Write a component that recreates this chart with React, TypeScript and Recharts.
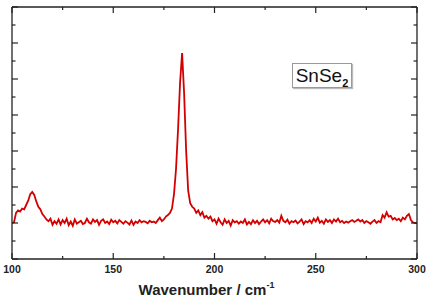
import React from "react";
import { LineChart, Line, XAxis, YAxis } from "recharts";

const xStart = 100;
const intensity: number[] = [
  1.00, 1.02, 1.28, 1.35, 1.32, 1.40, 1.38, 1.50, 1.62, 1.80,
  1.86, 1.78, 1.60, 1.45, 1.38, 1.25, 1.18, 1.10, 1.05, 1.12,
  0.95, 1.05, 0.98, 1.10, 0.96, 1.08, 1.00, 1.12, 0.94, 1.04,
  0.92, 1.10, 0.98, 1.02, 1.06, 0.97, 1.00, 1.12, 1.02, 0.98,
  1.10, 1.03, 1.08, 0.95, 1.06, 1.10, 1.00, 1.04, 0.97, 1.09,
  1.02, 1.06, 0.99, 1.08, 1.03, 0.98, 1.05, 1.01, 0.96, 1.07,
  0.95, 1.04, 1.00, 1.08, 1.02, 1.05, 1.03, 0.99, 1.06, 1.02,
  1.04, 1.00, 1.08, 1.15, 1.05, 1.10, 1.18, 1.22, 1.28, 1.40,
  1.80, 2.50, 3.60, 4.90, 5.72, 4.60, 3.00, 1.90, 1.55, 1.45,
  1.40, 1.28, 1.35, 1.22, 1.30, 1.15, 1.20, 1.12, 1.18, 1.05,
  1.10, 0.98, 1.12, 1.02, 0.95, 1.10, 1.00, 1.06, 0.93, 1.08,
  1.02, 1.05, 0.98, 1.04, 1.00, 1.10, 0.96, 1.03, 0.97, 1.08,
  1.00, 1.06, 0.97, 1.04, 1.10, 1.02, 1.08, 0.99, 1.12, 1.05,
  1.03, 1.08, 1.01, 1.20, 1.06, 1.02, 1.09, 0.98, 1.05, 1.02,
  1.07, 0.99, 1.04, 1.10, 0.97, 1.05, 1.02, 1.08, 1.00, 1.12,
  1.04, 1.15, 1.01, 1.06, 0.98, 1.10, 1.03, 1.08, 1.00, 1.10,
  1.04, 1.12, 1.02, 1.06, 1.00, 1.04, 1.01, 1.05, 1.08, 1.03,
  1.06, 1.10, 1.04, 1.08, 1.00, 1.05, 1.02, 0.98, 1.04, 1.08,
  1.00, 1.05, 1.02, 1.22, 1.15, 1.30, 1.18, 1.20, 1.10, 1.14,
  1.08, 1.12, 1.05, 1.15, 1.10, 1.20, 1.25, 1.08, 1.02, 1.00,
  1.00,
];

const xTicks = [100, 125, 150, 175, 200, 225, 250, 275, 300];
const yTicks = [0, 0.5, 1, 1.5, 2, 2.5, 3, 3.5, 4, 4.5, 5, 5.5, 6, 6.5, 7];
const xTitle = "Wavenumber / cm";
const xTitleSup = "-1";
const sampleLabel = "SnSe";
const sampleSub = "2";

const data = intensity.map((v, i) => ({ x: xStart + i, y: v }));

const AXIS = "#222";

const BottomTick = (props: any) => {
  const { x, y, payload } = props;
  const major = payload.value % 50 === 0;
  return (
    <g>
      <line x1={x} x2={x} y1={y} y2={y - (major ? 6 : 3)} stroke={AXIS} strokeWidth={1.2} />
      {major && (
        <text x={x} y={y + 14} textAnchor="middle" fontFamily="Liberation Sans, Arial, sans-serif" fontWeight="bold" fontSize={10.5} fill="#222">
          {payload.value}
        </text>
      )}
    </g>
  );
};

const TopTick = (props: any) => {
  const { x, y, payload } = props;
  const major = payload.value % 50 === 0;
  return <line x1={x} x2={x} y1={y} y2={y + (major ? 6 : 3)} stroke={AXIS} strokeWidth={1.2} />;
};

const LeftTick = (props: any) => {
  const { x, y, payload } = props;
  const major = payload.value % 1 === 0;
  return <line x1={x} x2={x + (major ? 6 : 3.5)} y1={y} y2={y} stroke={AXIS} strokeWidth={1.2} />;
};

const RightTick = (props: any) => {
  const { x, y, payload } = props;
  const major = payload.value % 1 === 0;
  return <line x1={x} x2={x - (major ? 6 : 3.5)} y1={y} y2={y} stroke={AXIS} strokeWidth={1.2} />;
};

const renderTitle = (props: any) => {
  const vb = props.viewBox || {};
  const cx = vb.x + vb.width / 2 - 8;
  const ty = vb.y + 36;
  return (
    <text x={cx} y={ty} textAnchor="middle" fontFamily="Liberation Sans, Arial, sans-serif" fontWeight="bold" fontSize={15} fill="#222">
      {xTitle}
      <tspan fontSize={9} dy={-7}>{xTitleSup}</tspan>
    </text>
  );
};

export default function App() {
  return (
    <div style={{ position: "absolute", left: 0, top: 0, width: 430, height: 300, background: "#fff" }}>
      <LineChart width={430} height={300} data={data} margin={{ top: 6, right: 12, left: 11, bottom: 0 }}>
        <XAxis
          dataKey="x"
          type="number"
          domain={[100, 300]}
          ticks={xTicks}
          interval={0}
          height={41}
          tickSize={0}
          tickMargin={0}
          tickLine={false}
          stroke={AXIS}
          strokeWidth={1.3}
          tick={<BottomTick />}
          label={{ content: renderTitle }}
        />
        <XAxis
          xAxisId="top"
          orientation="top"
          dataKey="x"
          type="number"
          domain={[100, 300]}
          ticks={xTicks}
          interval={0}
          height={1}
          tickSize={0}
          tickMargin={0}
          tickLine={false}
          stroke={AXIS}
          strokeWidth={1.3}
          tick={<TopTick />}
        />
        <YAxis
          type="number"
          domain={[0, 7]}
          ticks={yTicks}
          interval={0}
          width={1}
          tickSize={0}
          tickMargin={0}
          tickLine={false}
          stroke={AXIS}
          strokeWidth={1.3}
          allowDataOverflow
          tick={<LeftTick />}
        />
        <YAxis
          yAxisId="right"
          orientation="right"
          type="number"
          domain={[0, 7]}
          ticks={yTicks}
          interval={0}
          width={1}
          tickSize={0}
          tickMargin={0}
          tickLine={false}
          stroke={AXIS}
          strokeWidth={1.3}
          allowDataOverflow
          tick={<RightTick />}
        />
        <Line
          type="linear"
          dataKey="y"
          stroke="#d40000"
          strokeWidth={1.8}
          dot={false}
          isAnimationActive={false}
        />
      </LineChart>
      <div
        style={{
          position: "absolute",
          left: 292,
          top: 63,
          width: 60,
          height: 25,
          boxSizing: "border-box",
          border: "1px solid #999",
          boxShadow: "1px 1px 1px #bbb",
          background: "#fff",
          fontFamily: "Liberation Sans, Arial, sans-serif",
          fontSize: 19,
          lineHeight: "23px",
          textAlign: "center",
          color: "#111",
        }}
      >
        {sampleLabel}
        <span style={{ fontSize: 11, fontWeight: "bold", position: "relative", top: 5 }}>{sampleSub}</span>
      </div>
    </div>
  );
}
